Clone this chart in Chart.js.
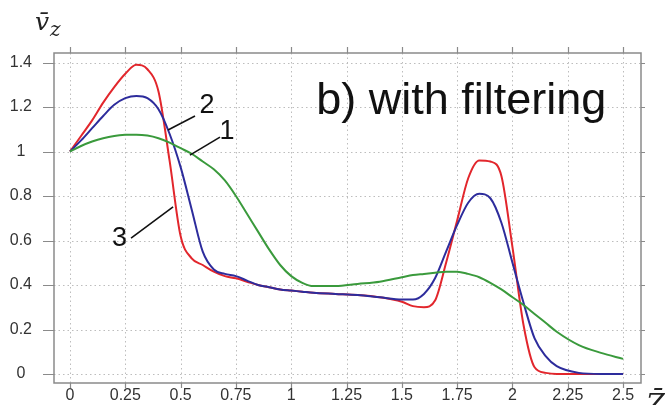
<!DOCTYPE html>
<html>
<head>
<meta charset="utf-8">
<script src="https://cdn.jsdelivr.net/npm/chart.js@4"></script>
<style>
  html, body { margin: 0; padding: 0; background: #fff; }
  #wrap { position: relative; width: 665px; height: 405px; }
</style>
</head>
<body>
<div id="wrap"><canvas id="velocityChart" width="665" height="405"></canvas></div>
<script>
// shared axial coordinate (Z bar)
const zValues = [0, 0.05, 0.1, 0.15, 0.2, 0.25, 0.3, 0.35, 0.4, 0.45, 0.5, 0.55, 0.6, 0.65, 0.7, 0.75,
    0.8, 0.85, 0.9, 0.95, 1.0, 1.05, 1.1, 1.2, 1.3, 1.4, 1.5, 1.55, 1.6, 1.65, 1.7, 1.75, 1.8, 1.85,
    1.9, 1.95, 2.0, 2.05, 2.1, 2.15, 2.2, 2.3, 2.4, 2.5];

// curve 1 (green)
const curve1 = [1.0, 1.025, 1.045, 1.06, 1.07, 1.075, 1.076, 1.072, 1.06, 1.04, 1.015, 0.99, 0.955, 0.92, 0.87, 0.8,
    0.72, 0.64, 0.56, 0.49, 0.44, 0.41, 0.395, 0.395, 0.405, 0.415, 0.435, 0.445, 0.45, 0.455, 0.46, 0.46, 0.45, 0.435,
    0.41, 0.38, 0.345, 0.31, 0.27, 0.23, 0.19, 0.13, 0.095, 0.068];

// curve 2 (blue)
const curve2 = [1.0, 1.05, 1.105, 1.16, 1.21, 1.24, 1.25, 1.24, 1.19, 1.08, 0.93, 0.74, 0.55, 0.47, 0.45, 0.44,
    0.42, 0.40, 0.39, 0.38, 0.375, 0.37, 0.365, 0.36, 0.355, 0.345, 0.335, 0.335, 0.36, 0.43, 0.55, 0.67, 0.77, 0.81,
    0.79, 0.68, 0.5, 0.32, 0.16, 0.08, 0.035, 0.005, 0, 0];

// curve 3 (red)
const curve3 = [1.0, 1.07, 1.14, 1.22, 1.29, 1.35, 1.39, 1.37, 1.27, 0.96, 0.62, 0.52, 0.49, 0.46, 0.44, 0.43,
    0.415, 0.40, 0.39, 0.38, 0.375, 0.37, 0.365, 0.36, 0.355, 0.345, 0.325, 0.305, 0.30, 0.33, 0.5, 0.69, 0.88, 0.96,
    0.955, 0.89, 0.57, 0.22, 0.03, 0.005, 0, 0, 0, 0];

const zTicks = [0, 0.25, 0.5, 0.75, 1, 1.25, 1.5, 1.75, 2, 2.25, 2.5];
const zTickLabels = ['0', '0.25', '0.5', '0.75', '1', '1.25', '1.5', '1.75', '2', '2.25', '2.5'];
const vTicks = [0, 0.2, 0.4, 0.6, 0.8, 1, 1.2, 1.4];
const vTickLabels = ['0', '0.2', '0.4', '0.6', '0.8', '1', '1.2', '1.4'];

// annotation anchors in data units: [label, labelZ, labelV, lineFromZ, lineFromV, lineToZ, lineToV]
const curveNotes = [
    ['2', 0.619, 1.209, 0.565, 1.16, 0.443, 1.097],
    ['1', 0.71, 1.092, 0.678, 1.065, 0.542, 0.984],
    ['3', 0.224, 0.607, 0.276, 0.611, 0.466, 0.751]
];

const GRAY = '#8a8a8a';
const TEXT = '#333333';

function toPoints(ys) {
    return zValues.map((z, i) => ({ x: z, y: ys[i] }));
}

// dotted grid, drawn under the curves
const gridPlugin = {
    id: 'dottedGrid',
    beforeDatasetsDraw(chart) {
        const ctx = chart.ctx;
        const a = chart.chartArea;
        const xs = chart.scales.x;
        const ys = chart.scales.y;
        ctx.save();
        ctx.strokeStyle = '#bdbdbd';
        ctx.lineWidth = 1;
        ctx.setLineDash([1.5, 3]);
        ctx.beginPath();
        zTicks.forEach(z => {
            const px = Math.round(xs.getPixelForValue(z)) + 0.5;
            ctx.moveTo(px, a.top); ctx.lineTo(px, a.bottom);
        });
        vTicks.forEach(v => {
            const py = Math.round(ys.getPixelForValue(v)) + 0.5;
            ctx.moveTo(a.left, py); ctx.lineTo(a.right, py);
        });
        ctx.stroke();
        ctx.restore();
    }
};

const framePlugin = {
    id: 'frame',
    afterDraw(chart) {
        const ctx = chart.ctx;
        const a = chart.chartArea;
        const xs = chart.scales.x;
        const ys = chart.scales.y;
        ctx.save();
        ctx.strokeStyle = GRAY;
        ctx.lineWidth = 1.5;
        ctx.beginPath();
        ctx.rect(a.left, a.top, a.right - a.left, a.bottom - a.top);
        ctx.stroke();

        // outward tick marks on all four sides
        ctx.lineWidth = 1.2;
        ctx.beginPath();
        zTicks.forEach(z => {
            const px = Math.round(xs.getPixelForValue(z)) + 0.5;
            ctx.moveTo(px, a.top); ctx.lineTo(px, a.top - 6);
            ctx.moveTo(px, a.bottom); ctx.lineTo(px, a.bottom + 5);
        });
        vTicks.forEach(v => {
            const py = Math.round(ys.getPixelForValue(v)) + 0.5;
            ctx.moveTo(a.left, py); ctx.lineTo(a.left - 11, py);
            ctx.moveTo(a.right, py); ctx.lineTo(a.right + 4, py);
        });
        ctx.stroke();

        // curve labels and leader lines
        ctx.strokeStyle = '#111';
        ctx.lineWidth = 1.6;
        ctx.fillStyle = '#111';
        ctx.font = '27px "Liberation Sans", Arial, sans-serif';
        ctx.textAlign = 'center';
        ctx.textBaseline = 'middle';
        curveNotes.forEach(n => {
            ctx.beginPath();
            ctx.moveTo(xs.getPixelForValue(n[3]), ys.getPixelForValue(n[4]));
            ctx.lineTo(xs.getPixelForValue(n[5]), ys.getPixelForValue(n[6]));
            ctx.stroke();
            ctx.fillText(n[0], xs.getPixelForValue(n[1]), ys.getPixelForValue(n[2]));
        });

        // panel title
        ctx.font = '45px "Liberation Sans", Arial, sans-serif';
        ctx.textAlign = 'left';
        ctx.textBaseline = 'alphabetic';
        ctx.fillText('b) with filtering', xs.getPixelForValue(1.113), ys.getPixelForValue(1.168));

        // axis titles
        ctx.fillStyle = '#222';
        ctx.font = 'italic 25px "DejaVu Serif", "Liberation Serif", serif';
        ctx.fillText('v\u0304', 35, 30);
        ctx.font = 'italic 20px "DejaVu Serif", "Liberation Serif", serif';
        ctx.fillText('z', 50, 36);
        ctx.font = 'italic 27px "DejaVu Serif", "Liberation Serif", serif';
        ctx.fillText('Z\u0304', 646, 414);
        ctx.restore();
    }
};

function initChart() {
    const ctx = document.getElementById('velocityChart').getContext('2d');

    new Chart(ctx, {
        type: 'line',
        data: {
            datasets: [
                { label: '1', data: toPoints(curve1), borderColor: '#3a9a3c' },
                { label: '2', data: toPoints(curve2), borderColor: '#2d2c9c' },
                { label: '3', data: toPoints(curve3), borderColor: '#e2262c' }
            ].map(d => Object.assign(d, {
                borderWidth: 2,
                pointRadius: 0,
                fill: false,
                cubicInterpolationMode: 'monotone'
            }))
        },
        options: {
            responsive: false,
            animation: false,
            layout: { padding: { top: 53, right: 24, left: 0, bottom: 0 } },
            plugins: {
                legend: { display: false },
                tooltip: { enabled: false }
            },
            scales: {
                x: {
                    type: 'linear',
                    min: -0.0723,
                    max: 2.581,
                    afterBuildTicks: scale => { scale.ticks = zTicks.map(v => ({ value: v })); },
                    afterFit: scale => {
                        scale.height = 22;
                        scale.paddingLeft = 0; scale.paddingRight = 0;
                        scale.paddingTop = 0; scale.paddingBottom = 0;
                    },
                    ticks: {
                        autoSkip: false,
                        maxRotation: 0,
                        padding: 3,
                        color: TEXT,
                        font: { family: '"Liberation Sans", Arial, sans-serif', size: 16 },
                        callback: (value, index) => zTickLabels[index]
                    },
                    grid: { display: false, drawTicks: false },
                    border: { display: false }
                },
                y: {
                    type: 'linear',
                    min: -0.0405,
                    max: 1.443,
                    afterBuildTicks: scale => { scale.ticks = vTicks.map(v => ({ value: v })); },
                    afterFit: scale => {
                        scale.width = 54;
                        scale.paddingLeft = 0; scale.paddingRight = 0;
                        scale.paddingTop = 0; scale.paddingBottom = 0;
                    },
                    ticks: {
                        autoSkip: false,
                        crossAlign: 'center',
                        padding: 22,
                        color: TEXT,
                        font: { family: '"Liberation Sans", Arial, sans-serif', size: 16 },
                        callback: (value, index) => vTickLabels[index]
                    },
                    grid: { display: false, drawTicks: false },
                    border: { display: false }
                }
            }
        },
        plugins: [gridPlugin, framePlugin]
    });
}

document.addEventListener('DOMContentLoaded', initChart);
</script>
</body>
</html>
